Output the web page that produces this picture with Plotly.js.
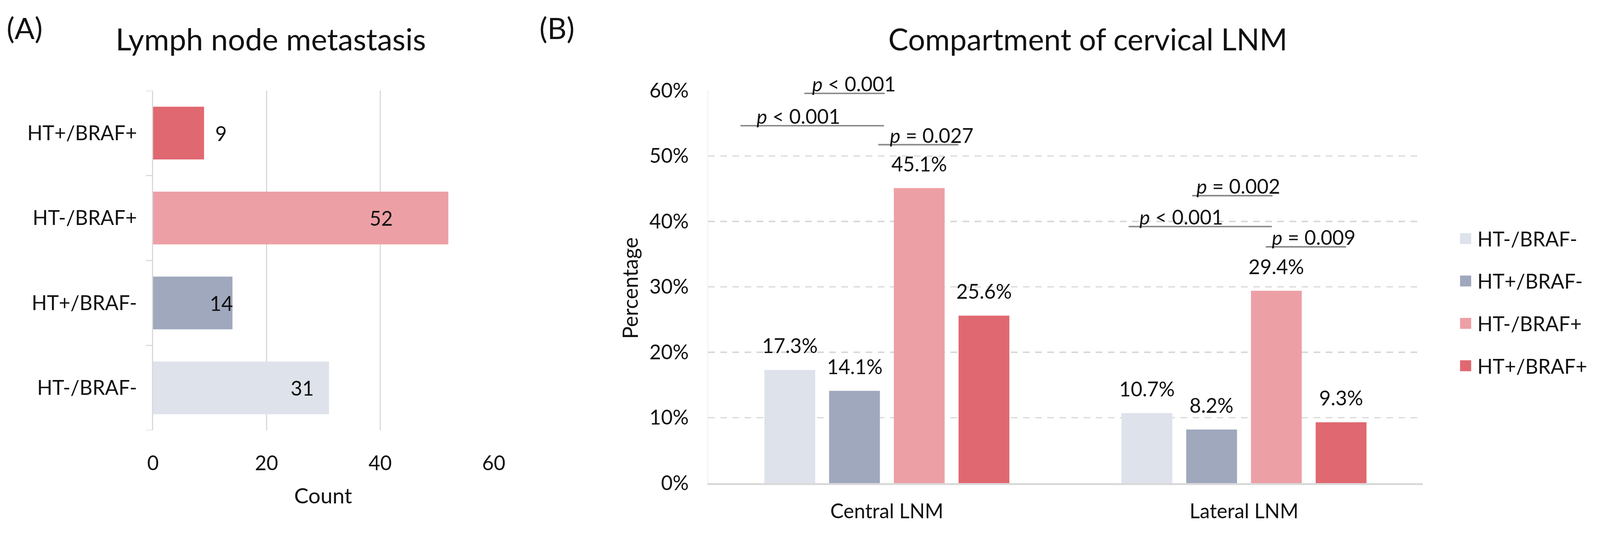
<!DOCTYPE html>
<html>
<head>
<meta charset="utf-8">
<script src="https://cdn.plot.ly/plotly-3.0.1.min.js"></script>
<style>
  html, body { margin: 0; padding: 0; background: #ffffff; overflow: hidden; }
</style>
</head>
<body>
<div id="chart"></div>
<script>
// ---------------- data ----------------
const lnmCategories = ['HT-/BRAF-', 'HT+/BRAF-', 'HT-/BRAF+', 'HT+/BRAF+'];
const lnmCounts = [31, 14, 52, 9];
const countTicks = [0, 20, 40, 60];

const compartments = ['Central LNM', 'Lateral LNM'];
const groupNames = ['HT-/BRAF-', 'HT+/BRAF-', 'HT-/BRAF+', 'HT+/BRAF+'];
const pctHTnegBRAFneg = [17.3, 10.7];
const pctHTposBRAFneg = [14.1, 8.2];
const pctHTnegBRAFpos = [45.1, 29.4];
const pctHTposBRAFpos = [25.6, 9.3];
const pctTicks = [0, 10, 20, 30, 40, 50, 60];

const pValueLabels = ['< 0.001', '< 0.001', '= 0.027', '= 0.002', '< 0.001', '= 0.009'];

// ---------------- styling / layout constants ----------------
const BW = 4310, BH = 1375;                        // design size
const VW = window.innerWidth || BW, VH = window.innerHeight || BH;
const kx = VW / BW, ky = VH / BH, kf = Math.min(kx, ky);
const W = VW, H = VH;
const sx = v => v * kx, sy = v => v * ky, sf = v => v * kf;
const FONT = 'Lato, "Open Sans", sans-serif';
const TXT = '#111111';
const GRID = '#d9d9d9';
const CLEAR = 'rgba(0,0,0,0)';
const groupColors = ['#dee2ea', '#9fa8bd', '#eca0a5', '#e06871'];
const colorOf = {};
groupNames.forEach((g, i) => { colorOf[g] = groupColors[i]; });
const BARGAP = 0.275, BARGROUPGAP = 0.215;
const px = x => x / BW;
const py = y => 1 - y / BH;
const tf = size => ({ family: FONT, size: sf(size), color: TXT });

// count-label nudges (px, horizontal) in the order of lnmCounts
const countLabelShift = [-38, 4, -147, 28];

// bracket geometry (axis units of panel B): [x0, x1, y, textX]
const bracketGeom = [
  [-0.231, -0.006, 59.58, -0.211],
  [-0.410, -0.008, 54.64, -0.367],
  [-0.024,  0.200, 51.73,  0.006],
  [ 0.855,  1.080, 43.94,  0.865],
  [ 0.677,  1.078, 39.22,  0.705],
  [ 1.061,  1.286, 36.12,  1.076]
];

const seriesB = [pctHTnegBRAFneg, pctHTposBRAFneg, pctHTnegBRAFpos, pctHTposBRAFpos];

// ---------------- traces ----------------
const traces = [];
traces.push({
  type: 'bar', orientation: 'h',
  y: lnmCategories, x: lnmCounts,
  xaxis: 'x', yaxis: 'y',
  width: 0.62,
  marker: { color: lnmCategories.map(c => colorOf[c]) },
  showlegend: false, hoverinfo: 'skip'
});
groupNames.forEach((g, i) => {
  traces.push({
    type: 'bar', name: g,
    x: compartments, y: seriesB[i],
    xaxis: 'x2', yaxis: 'y2',
    marker: { color: groupColors[i] },
    showlegend: false, hoverinfo: 'skip'
  });
});

// ---------------- annotations & shapes ----------------
const annotations = [];
const shapes = [];

annotations.push({ xref: 'paper', yref: 'paper', x: px(730), y: py(148), xanchor: 'center', yanchor: 'bottom',
  text: 'Lymph node metastasis', showarrow: false, font: tf(82) });
annotations.push({ xref: 'paper', yref: 'paper', x: px(2930), y: py(147), xanchor: 'center', yanchor: 'bottom',
  text: 'Compartment of cervical LNM', showarrow: false, font: tf(81) });
annotations.push({ xref: 'paper', yref: 'paper', x: px(16), y: py(118), xanchor: 'left', yanchor: 'bottom',
  text: '(A)', showarrow: false, font: tf(80) });
annotations.push({ xref: 'paper', yref: 'paper', x: px(1451), y: py(118), xanchor: 'left', yanchor: 'bottom',
  text: '(B)', showarrow: false, font: tf(80) });

// axis titles
annotations.push({ xref: 'paper', yref: 'paper', x: px(871), y: py(1233), xanchor: 'center', yanchor: 'top',
  text: 'Count', showarrow: false, font: tf(58) });
annotations.push({ xref: 'paper', yref: 'paper', x: px(1696), y: py(738), xanchor: 'center', yanchor: 'middle',
  textangle: -90, text: 'Percentage', showarrow: false, font: tf(56) });

// panel A value labels
lnmCounts.forEach((v, i) => {
  const outside = v < 10;
  annotations.push({ xref: 'x', yref: 'y', x: v, y: lnmCategories[i],
    xanchor: outside ? 'left' : 'right', xshift: sx(countLabelShift[i]),
    text: String(v), showarrow: false, font: tf(54) });
});

// panel A category boundary ticks
for (let b = -0.5; b <= lnmCategories.length - 0.5; b += 1) {
  shapes.push({ type: 'line', xref: 'paper', yref: 'y', x0: px(393), x1: px(412), y0: b, y1: b,
    line: { color: GRID, width: sf(3) } });
}

// panel B value labels
const slot = (1 - BARGAP) / groupNames.length;
seriesB.forEach((vals, i) => {
  vals.forEach((v, j) => {
    annotations.push({ xref: 'x2', yref: 'y2', x: j + (i - (groupNames.length - 1) / 2) * slot, y: v,
      xanchor: 'center', yanchor: 'bottom', yshift: sy(30),
      text: v.toFixed(1) + '%', showarrow: false, font: tf(54) });
  });
});

// p-value brackets
bracketGeom.forEach((b, n) => {
  shapes.push({ type: 'line', xref: 'x2', yref: 'y2', x0: b[0], x1: b[1], y0: b[2], y1: b[2],
    line: { color: '#8a8a8a', width: sf(4) } });
  annotations.push({ xref: 'x2', yref: 'y2', x: b[3], y: b[2], xanchor: 'left', yanchor: 'bottom', yshift: sy(-8),
    text: '<i>p</i> ' + pValueLabels[n], showarrow: false, font: tf(54) });
});

// legend (manual, large swatches)
groupNames.forEach((g, n) => {
  const cy = 611 + n * 108.5;
  shapes.push({ type: 'rect', xref: 'paper', yref: 'paper', x0: px(3933), x1: px(3963), y0: py(cy + 14), y1: py(cy - 14),
    fillcolor: groupColors[n], line: { width: 0 } });
  annotations.push({ xref: 'paper', yref: 'paper', x: px(3977), y: py(cy), xanchor: 'left', yanchor: 'middle',
    text: g, showarrow: false, font: tf(54) });
});

// ---------------- layout ----------------
const layout = {
  width: W, height: H,
  margin: { l: 0, r: 0, t: 0, b: 0, pad: 0 },
  paper_bgcolor: '#ffffff', plot_bgcolor: '#ffffff',
  font: { family: FONT, size: sf(54), color: TXT },
  showlegend: false,
  barmode: 'group', bargap: BARGAP, bargroupgap: BARGROUPGAP,
  xaxis: {
    domain: [px(412), px(1330)], anchor: 'y',
    range: [0, 60], tickvals: countTicks, ticktext: countTicks.map(String),
    showgrid: true, gridcolor: GRID, gridwidth: sf(3),
    zeroline: false, showline: false,
    ticks: 'outside', ticklen: sy(39), tickcolor: CLEAR,
    tickfont: tf(54),
    fixedrange: true
  },
  yaxis: {
    domain: [py(1102), py(232)], anchor: 'x',
    type: 'category', categoryorder: 'array', categoryarray: lnmCategories,
    range: [-0.5, 3.5],
    showline: true, linecolor: GRID, linewidth: sf(3),
    ticks: 'outside', ticklen: sx(29), tickcolor: CLEAR,
    showgrid: false, zeroline: false,
    tickfont: tf(54),
    fixedrange: true
  },
  xaxis2: {
    domain: [px(1908), px(3832)], anchor: 'y2',
    type: 'category', categoryorder: 'array', categoryarray: compartments,
    range: [-0.5, 1.5],
    showline: true, linecolor: GRID, linewidth: sf(5),
    ticks: 'outside', ticklen: sy(24), tickcolor: CLEAR,
    showgrid: false, zeroline: false,
    tickfont: tf(54),
    fixedrange: true
  },
  yaxis2: {
    domain: [py(1237), py(232)], anchor: 'x2',
    range: [0, 60], tickvals: pctTicks, ticktext: pctTicks.map(t => t + '%'),
    showgrid: true, gridcolor: GRID, gridwidth: sf(4), griddash: Math.round(sx(18)) + 'px,' + Math.round(sx(15)) + 'px',
    zeroline: false, showline: true, linecolor: '#eeeeee', linewidth: sf(2),
    ticks: 'outside', ticklen: sx(40), tickcolor: CLEAR,
    tickfont: tf(54),
    fixedrange: true
  },
  annotations: annotations,
  shapes: shapes
};

Plotly.newPlot('chart', traces, layout, { staticPlot: true, displayModeBar: false });
</script>
</body>
</html>
